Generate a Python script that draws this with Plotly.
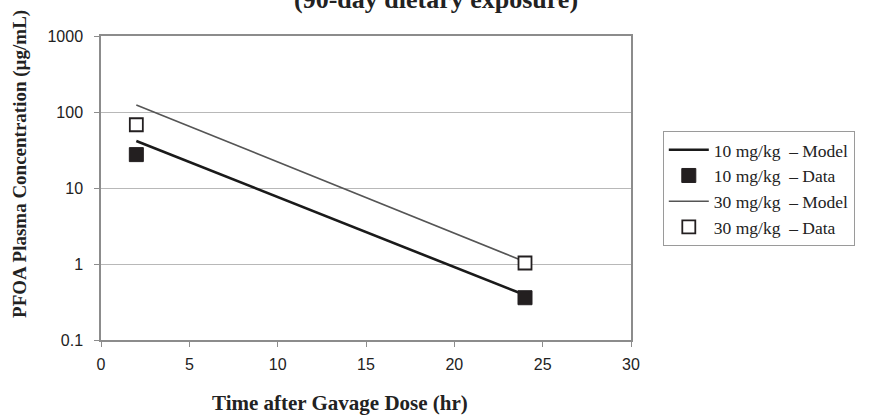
import plotly.graph_objects as go

# Data
times = [2, 24]
model_10 = [41.5, 0.39]
data_10 = [27.5, 0.36]
model_30 = [124, 1.07]
data_30 = [68, 1.03]

names = ["10 mg/kg\u00a0\u00a0– Model", "10 mg/kg\u00a0\u00a0– Data",
         "30 mg/kg\u00a0\u00a0– Model", "30 mg/kg\u00a0\u00a0– Data"]
x_ticks = [0, 5, 10, 15, 20, 25, 30]
y_tickvals = [0.1, 1, 10, 100, 1000]
y_ticktext = ["0.1", "1", "10", "100", "1000"]

serif = "Liberation Serif, Times New Roman, serif"
sans = "Liberation Sans, Arial, sans-serif"

fig = go.Figure()
fig.add_trace(go.Scatter(x=times, y=model_10, mode="lines", name=names[0],
                         line=dict(color="#1a1a1a", width=2.6)))
fig.add_trace(go.Scatter(x=times, y=data_10, mode="markers", name=names[1],
                         marker=dict(symbol="square", size=14, color="#231f20",
                                     line=dict(color="#231f20", width=1))))
fig.add_trace(go.Scatter(x=times, y=model_30, mode="lines", name=names[2],
                         line=dict(color="#555555", width=1.6)))
fig.add_trace(go.Scatter(x=times, y=data_30, mode="markers", name=names[3],
                         marker=dict(symbol="square", size=13, color="white",
                                     line=dict(color="#231f20", width=1.8))))

axis_line = "#8c8c8c"
fig.update_xaxes(range=[0, 30], tickvals=x_ticks, showgrid=False, zeroline=False,
                 showline=True, linecolor=axis_line, linewidth=1.5, mirror=True,
                 ticks="outside", ticklen=5, tickcolor=axis_line, automargin=False,
                 ticklabelstandoff=4,
                 tickfont=dict(family=sans, size=16, color="#222"))
fig.update_yaxes(type="log", range=[-1, 3], tickvals=y_tickvals, ticktext=y_ticktext,
                 showgrid=True, gridcolor="#b8b8b8", gridwidth=1, zeroline=False,
                 showline=True, linecolor=axis_line, linewidth=1.5, mirror=True,
                 ticks="outside", ticklen=5, tickcolor=axis_line, automargin=False,
                 ticklabelstandoff=8,
                 tickfont=dict(family=sans, size=16, color="#222"))

fig.update_layout(
    width=877, height=415,
    margin=dict(l=101, r=246, t=36, b=75, pad=0, autoexpand=False),
    paper_bgcolor="white", plot_bgcolor="white",
    showlegend=True,
    legend=dict(x=1.06, y=0.688, xanchor="left", yanchor="top",
                bordercolor="#9a9a9a", borderwidth=1, bgcolor="white",
                font=dict(family=serif, size=17.5, color="#222"),
                itemwidth=40, tracegroupgap=0),
    annotations=[
        dict(text="<b>(90-day dietary exposure)</b>", xref="paper", yref="paper",
             x=0.632, y=1.121, xanchor="center", yanchor="middle", showarrow=False,
             font=dict(family=serif, size=26, color="#222")),
        dict(text="<b>PFOA Plasma Concentration (µg/mL)</b>", xref="paper", yref="paper",
             x=-0.153, y=0.579, xanchor="center", yanchor="middle", showarrow=False,
             textangle=-90, font=dict(family=serif, size=19, color="#222")),
        dict(text="<b>Time after Gavage Dose (hr)</b>", xref="paper", yref="paper",
             x=0.451, y=-0.207, xanchor="center", yanchor="middle", showarrow=False,
             font=dict(family=serif, size=21, color="#222")),
    ],
)

fig.write_html("out.html", config={"displayModeBar": False},
               post_script="document.body.style.margin='0';document.body.style.overflow='hidden';")
